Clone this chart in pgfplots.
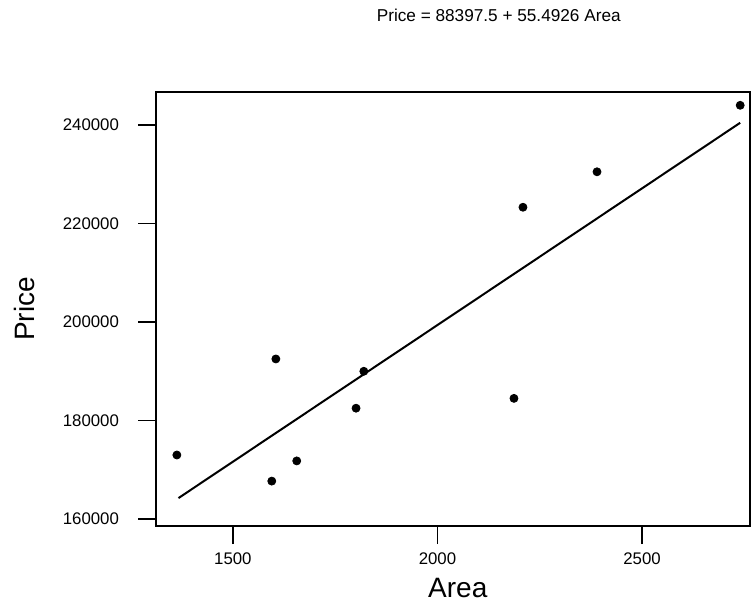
\documentclass[border=0pt]{standalone}
\usepackage{pgfplots}
\pgfplotsset{compat=1.18}
\usepackage{fontspec}
\setmainfont{Liberation Sans}

\begin{document}
\begin{tikzpicture}
\begin{axis}[
    scale only axis,
    width=297pt, height=217pt,
    xmin=1312, xmax=2764,
    ymin=158580, ymax=246700,
    xtick={1500,2000,2500},
    ytick={160000,180000,200000,220000,240000},
    scaled ticks=false,
    tick align=outside,
    major tick length=9pt,
    xtick pos=bottom, ytick pos=left,
    /pgf/number format/fixed,
    /pgf/number format/1000 sep={},
    /pgf/number format/assume math mode=true,
    tick label style={font=\fontsize{8.4}{10}\selectfont},
    xticklabel style={yshift=-1pt},
    yticklabel style={xshift=-6pt},
    axis line style={line width=0.8pt},
    tick style={line width=0.6pt, black},
    title={Price = 88397.5 + 55.4926 Area},
    title style={at={(0.577,1)}, anchor=center, yshift=32.5pt,
                 font=\fontsize{8.6}{10}\selectfont},
    xlabel={Area},
    xlabel style={at={(axis description cs:0.508,0)}, anchor=center,
                  yshift=-31pt, font=\fontsize{14}{16}\selectfont},
    ylabel={Price},
    ylabel style={at={(axis description cs:-0.222,0.5)}, anchor=center,
                  font=\fontsize{14}{16}\selectfont},
]
% fitted line, end points from the equation
\addplot[black, line width=1pt] coordinates {(1367,164256) (2740,240447)};
% observations
\addplot[only marks, mark=*, mark size=2pt, black] coordinates {
    (1363,173000) (1605,192500) (1595,167700) (1656,171800)
    (1801,182500) (1820,190000) (2187,184500) (2209,223300)
    (2390,230500) (2740,244000)
};
\end{axis}
\pgfresetboundingbox
\path (current axis.south west) ++(-78pt,-38.5pt) coordinate (bl);
\path (current axis.north east) ++(1pt,46pt) coordinate (tr);
\useasboundingbox (bl) rectangle (tr);
\end{tikzpicture}
\end{document}
